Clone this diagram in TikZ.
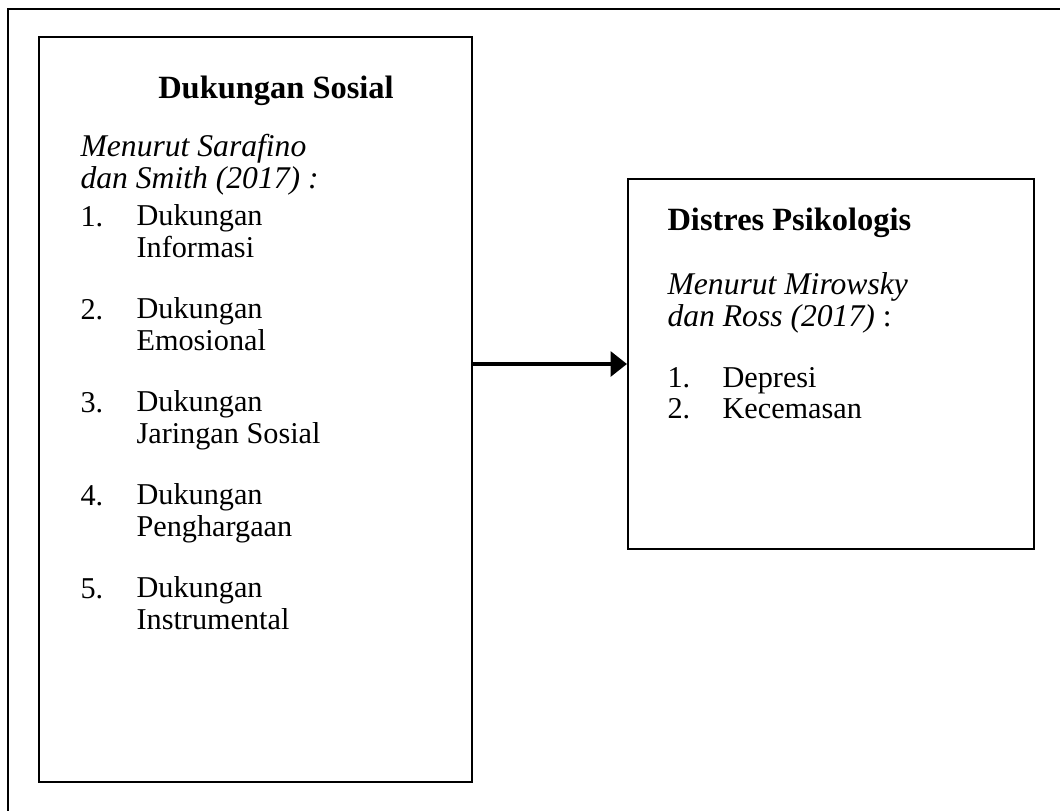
\documentclass[tikz,border=0pt]{standalone}
\usepackage{fontspec}
\setmainfont{Liberation Serif}
\usetikzlibrary{arrows.meta}

\tikzset{
  box/.style={draw, line width=0.75pt, inner sep=0pt},
  txt/.style={anchor=base west, inner sep=0pt, align=left, font=\fontsize{11}{11.3}\selectfont},
  titel/.style={txt, font=\fontsize{11.8}{11.3}\selectfont\bfseries},
  sumber/.style={txt, font=\fontsize{11.5}{11.3}\selectfont\itshape},
  arr/.style={line width=1.5pt, -{Triangle[length=6pt,width=9pt]}}
}

\begin{document}
\begin{tikzpicture}[x=0.3636pt,y=-0.3636pt]
\useasboundingbox (0,0) rectangle (1060,811);
\draw[line width=0.75pt] (8,811) -- (8,9) -- (1060,9);

% kotak
\node[box, minimum width=157.4pt, minimum height=270.9pt] (dsosial) at (255.5,409.5) {};
\node[box, minimum width=147.6pt, minimum height=134.5pt] (dpsiko) at (831,364) {};

% dukungan sosial (base = baris terakhir)
\node[titel, anchor=base] (tsosial) at (276,98) {Dukungan Sosial};
\node[sumber] (msosial) at (80,188) {Menurut Sarafino\\dan Smith (2017) :};
\foreach \i/\ta/\tb in {1/Dukungan/Informasi, 2/Dukungan/Emosional,
  3/Dukungan/Jaringan Sosial, 4/Dukungan/Penghargaan, 5/Dukungan/Instrumental} {
  \node[txt] (nomor\i) at (80,{226+93*(\i-1)}) {\i.};
  \node[txt] (aspek\i) at (136,{257+93*(\i-1)}) {\ta\\\tb};
}

% distres psikologis
\node[titel] (tpsiko) at (667,230) {Distres Psikologis};
\node[sumber] (mpsiko) at (667,326) {Menurut Mirowsky\\dan Ross (2017)\upshape\ :};
\node[txt] (nomorA) at (667,387) {1.};
\node[txt] (depresi) at (722,387) {Depresi};
\node[txt] (nomorB) at (667,418) {2.};
\node[txt] (cemas) at (722,418) {Kecemasan};

\draw[arr] (dsosial.east |- dpsiko.west) -- (dpsiko.west);
\end{tikzpicture}
\end{document}
